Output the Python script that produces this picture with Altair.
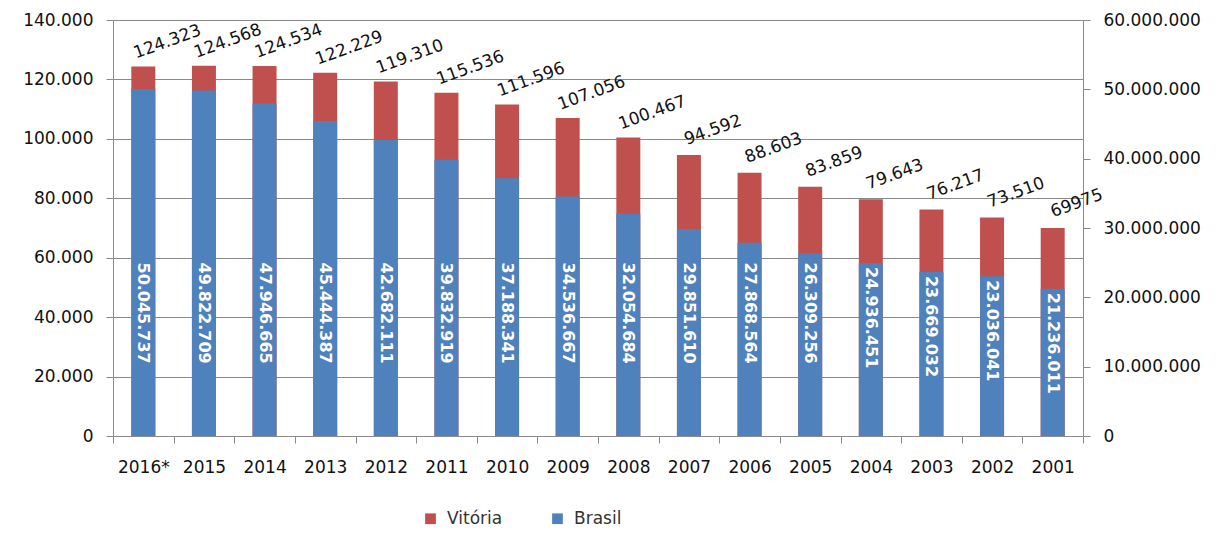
import altair as alt
import pandas as pd

years = ["2016*", "2015", "2014", "2013", "2012", "2011", "2010", "2009",
         "2008", "2007", "2006", "2005", "2004", "2003", "2002", "2001"]
vitoria = [124323, 124568, 124534, 122229, 119310, 115536, 111596, 107056,
           100467, 94592, 88603, 83859, 79643, 76217, 73510, 69975]
brasil = [50045737, 49822709, 47946665, 45444387, 42682111, 39832919, 37188341, 34536667,
          32054684, 29851610, 27868564, 26309256, 24936451, 23669032, 23036041, 21236011]
vitoria_labels = ["124.323", "124.568", "124.534", "122.229", "119.310", "115.536", "111.596", "107.056",
                  "100.467", "94.592", "88.603", "83.859", "79.643", "76.217", "73.510", "69975"]
brasil_labels = ["50.045.737", "49.822.709", "47.946.665", "45.444.387", "42.682.111", "39.832.919",
                 "37.188.341", "34.536.667", "32.054.684", "29.851.610", "27.868.564", "26.309.256",
                 "24.936.451", "23.669.032", "23.036.041", "21.236.011"]
series_names = ["Vitória", "Brasil"]
left_ticks = [0, 20000, 40000, 60000, 80000, 100000, 120000, 140000]
right_ticks = [0, 10000000, 20000000, 30000000, 40000000, 50000000, 60000000]

df = pd.DataFrame({
    "ano": years, "vitoria": vitoria, "brasil": brasil,
    "vit_label": vitoria_labels, "br_label": brasil_labels,
})

RED = "#C0504D"
BLUE = "#4F81BD"
FONT = "DejaVu Sans"
GRID = "#8a8a8a"
TXT = "#111111"
LABEL_EXPR = "replace(format(datum.value, ','), regexp(',', 'g'), '.')"

left_scale = alt.Scale(domain=[0, 140000], nice=False, zero=True)
right_scale = alt.Scale(domain=[0, 60000000], nice=False, zero=True)

x_axis = alt.Axis(title=None, labelAngle=0, tickBand="extent", tickSize=7, ticks=True,
                  tickColor=GRID, domainColor=GRID, labelPadding=16,
                  labelFont=FONT, labelFontSize=17, labelColor=TXT, grid=False)
x = alt.X("ano:N", sort=years, scale=alt.Scale(paddingInner=0, paddingOuter=0), axis=x_axis)

color = alt.Color("serie:N",
                  scale=alt.Scale(domain=series_names, range=[RED, BLUE]),
                  legend=alt.Legend(title=None, orient="none", legendX=309, legendY=490,
                                    direction="horizontal", symbolType="square",
                                    symbolSize=115, symbolStrokeWidth=0, symbolOpacity=1,
                                    labelFont=FONT, labelFontSize=17, labelColor="#333333",
                                    labelOffset=8, columnPadding=46, padding=0))

base = alt.Chart(df)

red_bars = base.transform_calculate(serie="'Vitória'").mark_bar(size=24).encode(
    x=x,
    y=alt.Y("vitoria:Q", scale=left_scale,
            axis=alt.Axis(orient="left", title=None, values=left_ticks, labelExpr=LABEL_EXPR,
                          grid=True, gridColor=GRID, gridWidth=1, domainColor=GRID,
                          tickColor=GRID, tickSize=7, labelPadding=13,
                          labelFont=FONT, labelFontSize=17, labelColor=TXT)),
    color=color,
)

blue_bars = base.transform_calculate(serie="'Brasil'").mark_bar(size=24).encode(
    x=x,
    y=alt.Y("brasil:Q", scale=right_scale,
            axis=alt.Axis(orient="right", title=None, values=right_ticks, labelExpr=LABEL_EXPR,
                          grid=False, domainColor=GRID, tickColor=GRID, tickSize=7,
                          labelPadding=13, labelFont=FONT, labelFontSize=17, labelColor=TXT)),
    color=color,
)

blue_text = base.transform_calculate(lab_y="min(datum.brasil, 25600000)").mark_text(
    angle=90, align="left", baseline="middle", dx=4,
    font=FONT, fontSize=16, fontWeight="bold", color="white",
).encode(
    x=x,
    y=alt.Y("lab_y:Q", scale=right_scale, axis=None),
    text="br_label:N",
)

red_text = base.mark_text(
    angle=340, align="center", baseline="middle", dx=31, dy=-15,
    font=FONT, fontSize=17, color=TXT,
).encode(
    x=x,
    y=alt.Y("vitoria:Q", scale=left_scale, axis=None),
    text="vit_label:N",
)

chart = alt.layer(red_bars, blue_bars, blue_text, red_text).resolve_scale(
    y="independent"
).properties(
    width=970, height=416,
    autosize=alt.AutoSizeParams(type="none"),
    padding={"left": 105, "top": 12, "right": 125, "bottom": 100},
    background="white",
).configure_view(strokeWidth=0)

chart.save("out.html", embed_options={"renderer": "svg", "actions": False})
